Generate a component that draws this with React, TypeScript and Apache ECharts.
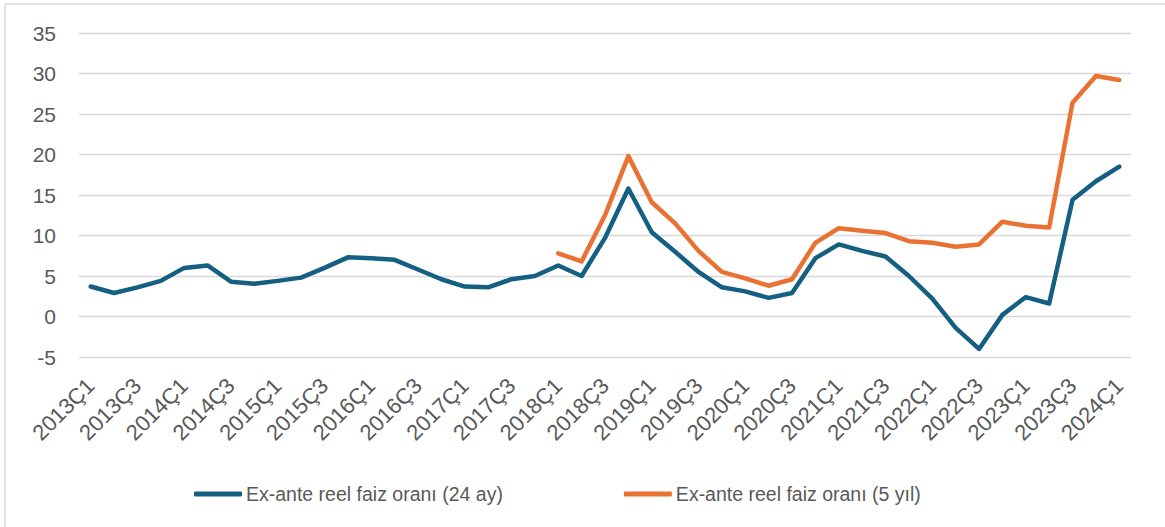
import React, { useEffect, useRef } from "react";
import * as echarts from "echarts";

const years = [2013, 2014, 2015, 2016, 2017, 2018, 2019, 2020, 2021, 2022, 2023, 2024];
const categories: string[] = [];
years.forEach((y) => {
  for (let q = 1; q <= 4; q++) {
    if (y === 2024 && q > 1) break;
    categories.push(`${y}Ç${q}`);
  }
});

const series24ay: number[] = [
  3.7, 2.9, 3.6, 4.4, 6.0, 6.3, 4.3, 4.05, 4.4, 4.8,
  6.0, 7.3, 7.2, 7.0, 5.8, 4.6, 3.7, 3.6, 4.6, 5.0,
  6.3, 5.0, 9.7, 15.8, 10.4, 8.0, 5.5, 3.6, 3.1, 2.3,
  2.9, 7.2, 8.9, 8.1, 7.4, 5.0, 2.2, -1.4, -4.0, 0.2,
  2.4, 1.6, 14.4, 16.7, 18.5,
];

const series5yil: (number | null)[] = [
  null, null, null, null, null, null, null, null, null, null,
  null, null, null, null, null, null, null, null, null, null,
  7.8, 6.8, 12.5, 19.8, 14.1, 11.5, 8.1, 5.5, 4.7, 3.8,
  4.6, 9.1, 10.9, 10.6, 10.3, 9.3, 9.1, 8.6, 8.9, 11.7,
  11.2, 11.0, 26.4, 29.7, 29.2,
];

const seriesNames = ["Ex-ante reel faiz oranı (24 ay)", "Ex-ante reel faiz oranı (5 yıl)"];
const FONT = "Liberation Sans";
const TEXT = "#595959";

export default function App() {
  const ref = useRef<HTMLDivElement>(null);
  useEffect(() => {
    if (!ref.current) return;
    const chart = echarts.init(ref.current, undefined, { renderer: "svg" });
    chart.setOption({
      animation: false,
      backgroundColor: "#ffffff",
      textStyle: { fontFamily: FONT },
      grid: { left: 79, right: 34, top: 33, bottom: 170, containLabel: false },
      graphic: [
        { type: "line", shape: { x1: 5, y1: 4, x2: 1165, y2: 4 }, style: { stroke: "#D9D9D9", lineWidth: 1.5 } },
        { type: "line", shape: { x1: 5, y1: 4, x2: 5, y2: 527 }, style: { stroke: "#D9D9D9", lineWidth: 1.5 } },
      ],
      legend: {
        left: 189,
        top: 479,
        itemGap: 121,
        itemWidth: 48,
        itemHeight: 5,
        icon: "roundRect",
        textStyle: { fontFamily: FONT, fontSize: 19.5, color: TEXT, padding: [0, 0, 0, -1] },
        data: seriesNames,
      },
      xAxis: {
        type: "category",
        data: categories,
        boundaryGap: true,
        axisLine: { show: false },
        axisTick: { show: false },
        axisLabel: {
          interval: 1,
          rotate: 45,
          margin: 25,
          fontFamily: FONT,
          fontSize: 22,
          color: TEXT,
        },
      },
      yAxis: {
        type: "value",
        min: -5,
        max: 35,
        interval: 5,
        axisLine: { show: false },
        axisTick: { show: false },
        axisLabel: { margin: 23, fontFamily: FONT, fontSize: 21, color: TEXT },
        splitLine: { lineStyle: { color: "#D9D9D9", width: 1.3 } },
      },
      series: [
        {
          name: seriesNames[0],
          type: "line",
          data: series24ay,
          symbol: "none",
          lineStyle: { color: "#156082", width: 4.5, cap: "round", join: "round" },
          itemStyle: { color: "#156082" },
        },
        {
          name: seriesNames[1],
          type: "line",
          data: series5yil,
          symbol: "none",
          lineStyle: { color: "#E97132", width: 4.5, cap: "round", join: "round" },
          itemStyle: { color: "#E97132" },
        },
      ],
    });
    return () => chart.dispose();
  }, []);
  return (
    <div
      ref={ref}
      style={{ position: "absolute", left: 0, top: 0, width: 1165, height: 527 }}
    />
  );
}
